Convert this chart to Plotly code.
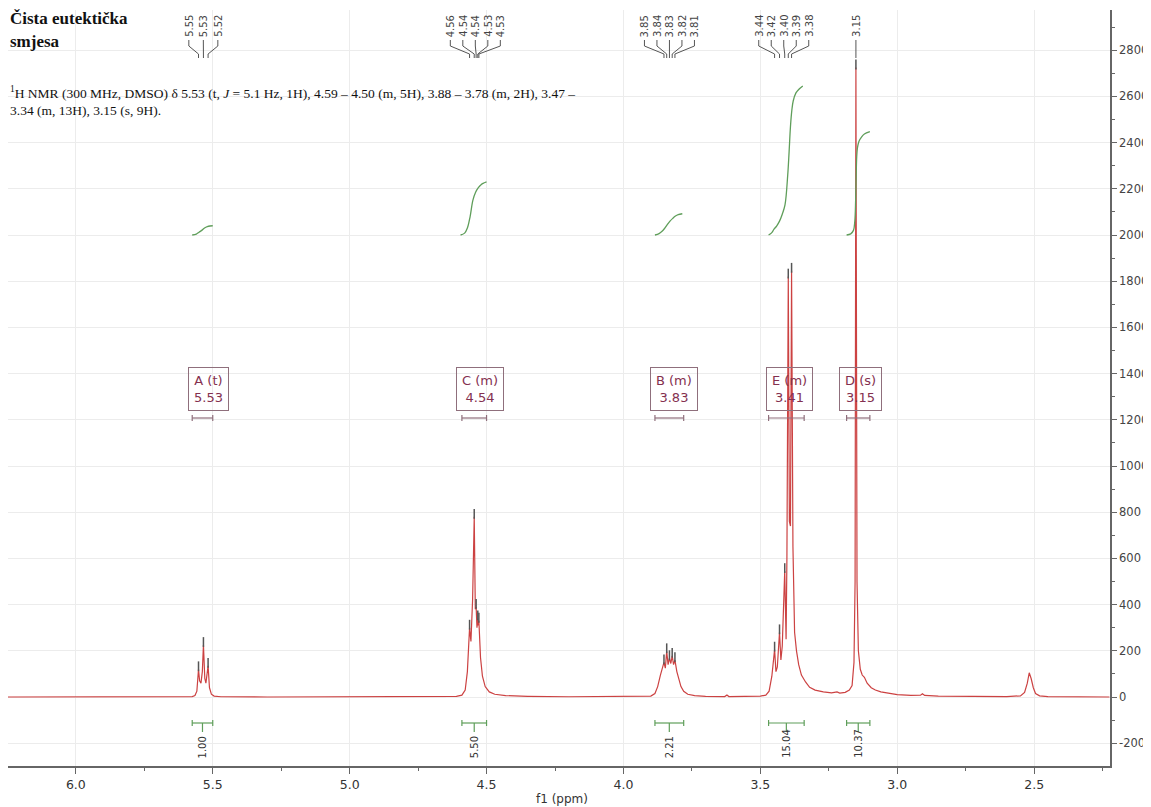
import plotly.graph_objects as go

# ---------------- values ----------------
spectrum_ppm = [
    6.28, 5.60, 5.575, 5.565, 5.558, 5.552, 5.548, 5.543, 5.538, 5.534, 5.529, 5.525, 5.520, 5.517,
    5.512, 5.505, 5.495, 5.47, 5.30,
    4.65, 4.61, 4.59, 4.578, 4.570, 4.562, 4.557, 4.551, 4.545, 4.541, 4.538, 4.535, 4.532, 4.530,
    4.528, 4.522, 4.515, 4.505, 4.49, 4.47, 4.43, 4.35, 4.20,
    3.95, 3.90, 3.885, 3.875, 3.865, 3.858, 3.852, 3.847, 3.842, 3.837, 3.832, 3.827, 3.822, 3.817,
    3.812, 3.805, 3.798, 3.79, 3.78, 3.765, 3.74, 3.70, 3.63, 3.622, 3.615, 3.55,
    3.50, 3.48, 3.468, 3.458, 3.448, 3.443, 3.438, 3.430, 3.425, 3.420, 3.411, 3.406, 3.403, 3.398,
    3.394, 3.390, 3.386, 3.381, 3.375, 3.368, 3.36, 3.35, 3.335, 3.32, 3.30, 3.27, 3.24, 3.22, 3.21,
    3.19, 3.175, 3.165, 3.158, 3.154, 3.151, 3.147, 3.142, 3.135, 3.128, 3.12, 3.11, 3.095, 3.08,
    3.06, 3.03, 3.00, 2.95, 2.915, 2.908, 2.90, 2.85, 2.75, 2.60, 2.55, 2.535, 2.525, 2.518, 2.511,
    2.503, 2.495, 2.48, 2.45, 2.35, 2.225,
]
spectrum_intensity = [
    0, 0, 2, 6, 25, 120, 70, 60, 110, 225, 80, 60, 100, 135,
    40, 12, 4, 1, 0,
    0, 3, 8, 30, 110, 300, 240, 420, 780, 380, 390, 300, 340, 310,
    330, 170, 90, 45, 22, 12, 6, 3, 1,
    1, 4, 15, 45, 95, 120, 150, 125, 198, 140, 168, 145, 178, 140,
    160, 110, 75, 45, 25, 12, 6, 3, 2, 9, 2, 2,
    4, 8, 25, 90, 205, 110, 130, 280, 160, 220, 545, 250, 600, 1820,
    760, 740, 1845, 650, 280, 200, 140, 95, 65, 42, 30, 22, 18, 22, 17,
    20, 30, 50, 150, 500, 2725, 500, 200, 120, 95, 85, 60, 40, 30,
    22, 15, 10, 7, 8, 14, 7, 4, 2, 2, 5, 20, 60, 105, 80,
    40, 15, 5, 2, 0, 0,
]

x_tick_values = [6.0, 5.5, 5.0, 4.5, 4.0, 3.5, 3.0, 2.5]
x_tick_labels = ["6.0", "5.5", "5.0", "4.5", "4.0", "3.5", "3.0", "2.5"]
y_tick_values = [-200, 0, 200, 400, 600, 800, 1000, 1200, 1400, 1600, 1800, 2000, 2200, 2400, 2600, 2800]
y_tick_labels = ["-200", "0", "200", "400", "600", "800", "1000", "1200", "1400", "1600", "1800",
                 "2000", "2200", "2400", "2600", "2800"]

multiplet_names = ["A (t)", "C (m)", "B (m)", "E (m)", "D (s)"]
multiplet_shifts = ["5.53", "4.54", "3.83", "3.41", "3.15"]
multiplet_from = [5.575, 4.59, 3.885, 3.47, 3.185]
multiplet_to = [5.50, 4.50, 3.78, 3.34, 3.10]
integral_values = ["1.00", "5.50", "2.21", "15.04", "10.37"]

integral_A_ppm = [5.575, 5.56, 5.55, 5.54, 5.53, 5.52, 5.51, 5.50]
integral_A_level = [2000, 2004, 2012, 2020, 2030, 2036, 2039, 2040]
integral_C_ppm = [4.595, 4.58, 4.57, 4.56, 4.55, 4.54, 4.53, 4.52, 4.51, 4.50]
integral_C_level = [2000, 2008, 2030, 2080, 2150, 2185, 2205, 2218, 2225, 2230]
integral_B_ppm = [3.885, 3.87, 3.86, 3.85, 3.84, 3.83, 3.82, 3.81, 3.80, 3.785]
integral_B_level = [2000, 2006, 2015, 2028, 2045, 2060, 2072, 2082, 2088, 2092]
integral_E_ppm = [3.47, 3.46, 3.45, 3.44, 3.43, 3.42, 3.41, 3.40, 3.395, 3.39, 3.385, 3.38, 3.37, 3.36, 3.345]
integral_E_level = [2000, 2008, 2025, 2040, 2060, 2090, 2130, 2260, 2360, 2470, 2540, 2580, 2615, 2630, 2645]
integral_D_ppm = [3.185, 3.17, 3.16, 3.155, 3.152, 3.15, 3.148, 3.145, 3.14, 3.13, 3.12, 3.10]
integral_D_level = [2000, 2005, 2020, 2060, 2150, 2260, 2340, 2380, 2405, 2425, 2437, 2447]

peak_group_ppm = [
    [5.552, 5.534, 5.517],
    [4.562, 4.545, 4.538, 4.532, 4.528],
    [3.852, 3.842, 3.832, 3.822, 3.812],
    [3.448, 3.430, 3.411, 3.398, 3.386],
    [3.151],
]
peak_group_height = [
    [120, 225, 135],
    [300, 780, 390, 340, 330],
    [150, 198, 168, 178, 160],
    [205, 280, 545, 1820, 1845],
    [2725],
]
peak_group_labels = [
    ["5.55", "5.53", "5.52"],
    ["4.56", "4.54", "4.54", "4.53", "4.53"],
    ["3.85", "3.84", "3.83", "3.82", "3.81"],
    ["3.44", "3.42", "3.40", "3.39", "3.38"],
    ["3.15"],
]
peak_label_spacing_px = [14.5, 12.5, 12.5, 12.5, 12.5]

title_lines = ["Čista eutektička", "smjesa"]
description_lines = [
    "<sup>1</sup>H NMR (300 MHz, DMSO) δ 5.53 (t, <i>J</i> = 5.1 Hz, 1H), 4.59 – 4.50 (m, 5H), 3.88 – 3.78 (m, 2H), 3.47 –",
    "3.34 (m, 13H), 3.15 (s, 9H).",
]

# ---------------- layout geometry ----------------
# the page body has an 8 px margin, so the figure starts at page (8, 8)
BODY = 8
W, H = 1151 - BODY, 807 - BODY
M_L, M_T = 0, 2
PLOT_W = 1110 - BODY - M_L
PLOT_H = 756
M_R = W - M_L - PLOT_W
M_B = H - M_T - PLOT_H
PPM_PER_PX = 4.054 / 1110
X_RANGE = [6.277 - BODY * PPM_PER_PX, 2.223]
Y_RANGE = [-298.7, 2974.0]
VAL_PER_PX = (Y_RANGE[1] - Y_RANGE[0]) / PLOT_H


def yv(py):
    """data value for a page pixel row"""
    return Y_RANGE[1] - (py - BODY - M_T) * VAL_PER_PX


def ypaper(py):
    return 1 - (py - BODY - M_T) / PLOT_H


def xpaper(px):
    return (px - BODY - M_L) / PLOT_W


RED = "#cc4242"
GREEN = "#5f9e5a"
MULT_TXT = "#84304f"
MULT_BOX = "#8f6f7c"
DARK = "#444444"

fig = go.Figure()

# spectrum
fig.add_trace(go.Scatter(x=spectrum_ppm, y=spectrum_intensity, mode="lines",
                         line=dict(color=RED, width=1.2), hoverinfo="skip"))

# integral curves
for px_, lv_ in [(integral_A_ppm, integral_A_level), (integral_C_ppm, integral_C_level),
                 (integral_B_ppm, integral_B_level), (integral_E_ppm, integral_E_level),
                 (integral_D_ppm, integral_D_level)]:
    fig.add_trace(go.Scatter(x=px_, y=lv_, mode="lines", line=dict(color=GREEN, width=1.3, shape="spline"),
                             hoverinfo="skip"))

# peak-pick marks on peak tops
mk_x, mk_y = [], []
for g_ppm, g_h in zip(peak_group_ppm, peak_group_height):
    for p, h in zip(g_ppm, g_h):
        mk_x.append(p)
        mk_y.append(h + 3 * VAL_PER_PX)
fig.add_trace(go.Scatter(x=mk_x, y=mk_y, mode="markers",
                         marker=dict(symbol="line-ns", size=7, line=dict(color="#555555", width=1.5)),
                         hoverinfo="skip"))

# peak label forks at the top
fork_x, fork_y = [], []
annotations = []
for g_ppm, g_lab, sp in zip(peak_group_ppm, peak_group_labels, peak_label_spacing_px):
    n = len(g_ppm)
    center = sum(g_ppm) / n
    for k, (p, lab) in enumerate(zip(g_ppm, g_lab)):
        lx = center + ((n - 1) / 2 - k) * sp * PPM_PER_PX
        fork_x += [lx, lx, p, p, None]
        fork_y += [yv(40), yv(46), yv(54), yv(58), None]
        annotations.append(dict(x=lx, y=yv(39), xref="x", yref="y", text=lab, showarrow=False,
                                textangle=-90, xanchor="center", yanchor="bottom",
                                font=dict(family="DejaVu Sans", size=10, color=DARK)))
fig.add_trace(go.Scatter(x=fork_x, y=fork_y, mode="lines", line=dict(color="#555555", width=1),
                         hoverinfo="skip"))

# multiplet range bars and integral bars
mb_x, mb_y, ib_x, ib_y = [], [], [], []
tick = 3 * VAL_PER_PX
for f, t in zip(multiplet_from, multiplet_to):
    y0 = yv(418)
    mb_x += [f, f, None, f, t, None, t, t, None]
    mb_y += [y0 - tick, y0 + tick, None, y0, y0, None, y0 - tick, y0 + tick, None]
    y1 = yv(723)
    mid = (f + t) / 2
    ib_x += [f, f, None, f, t, None, t, t, None, mid, mid, None]
    ib_y += [y1 - tick, y1 + tick, None, y1, y1, None, y1 - tick, y1 + tick, None, y1, yv(732), None]
fig.add_trace(go.Scatter(x=mb_x, y=mb_y, mode="lines", line=dict(color=MULT_BOX, width=1.2), hoverinfo="skip"))
fig.add_trace(go.Scatter(x=ib_x, y=ib_y, mode="lines", line=dict(color=GREEN, width=1.2), hoverinfo="skip"))

for name, sh, f, t, iv in zip(multiplet_names, multiplet_shifts, multiplet_from, multiplet_to, integral_values):
    annotations.append(dict(x=float(sh), y=yv(389), xref="x", yref="y", xshift=4,
                            text=f"{name}<br>{sh}", showarrow=False, align="center",
                            bordercolor=MULT_BOX, borderwidth=1, borderpad=5,
                            font=dict(family="DejaVu Sans", size=13, color=MULT_TXT)))
    annotations.append(dict(x=(f + t) / 2, y=yv(760), xref="x", yref="y", text=iv, showarrow=False,
                            textangle=-90, xanchor="center", yanchor="bottom",
                            font=dict(family="DejaVu Sans", size=10, color="#333333")))

# texts in the top-left corner
for line, py in zip(title_lines, [19, 41]):
    annotations.append(dict(x=xpaper(8), y=ypaper(py), xref="paper", yref="paper", text=f"<b>{line}</b>",
                            showarrow=False, xanchor="left", yanchor="middle",
                            font=dict(family="Liberation Serif", size=17, color="#111111")))
for line, py in zip(description_lines, [92, 110]):
    annotations.append(dict(x=xpaper(8), y=ypaper(py), xref="paper", yref="paper", text=line,
                            showarrow=False, xanchor="left", yanchor="middle",
                            font=dict(family="Liberation Serif", size=13.5, color="#111111")))

# x-axis title
annotations.append(dict(x=xpaper(562), y=ypaper(799), xref="paper", yref="paper", text="f1 (ppm)",
                        showarrow=False, xanchor="center", yanchor="middle",
                        font=dict(family="DejaVu Sans", size=12, color="#333333")))

fig.update_layout(
    width=W, height=H,
    margin=dict(l=M_L, r=M_R, t=M_T, b=M_B),
    paper_bgcolor="white", plot_bgcolor="white",
    showlegend=False,
    annotations=annotations,
    xaxis=dict(range=X_RANGE, tickvals=x_tick_values, ticktext=x_tick_labels,
               ticks="outside", ticklen=6, tickwidth=1.2, tickcolor="#666666",
               minor=dict(dtick=0.25, ticks="outside", ticklen=3, tickcolor="#666666", showgrid=False),
               showline=True, linecolor="#666666", linewidth=1.5,
               showgrid=True, gridcolor="#ececec", gridwidth=1, zeroline=False,
               tickfont=dict(family="DejaVu Sans", size=12.5, color="#333333")),
    yaxis=dict(range=Y_RANGE, side="right", tickvals=y_tick_values, ticktext=y_tick_labels,
               ticks="outside", ticklen=5, tickwidth=1.2, tickcolor="#666666",
               minor=dict(dtick=100, ticks="outside", ticklen=3, tickcolor="#666666", showgrid=False),
               showline=True, linecolor="#666666", linewidth=1.5,
               showgrid=True, gridcolor="#ececec", gridwidth=1, zeroline=False,
               tickfont=dict(family="DejaVu Sans", size=11.5, color="#444444")),
)

fig.write_html("out.html")
